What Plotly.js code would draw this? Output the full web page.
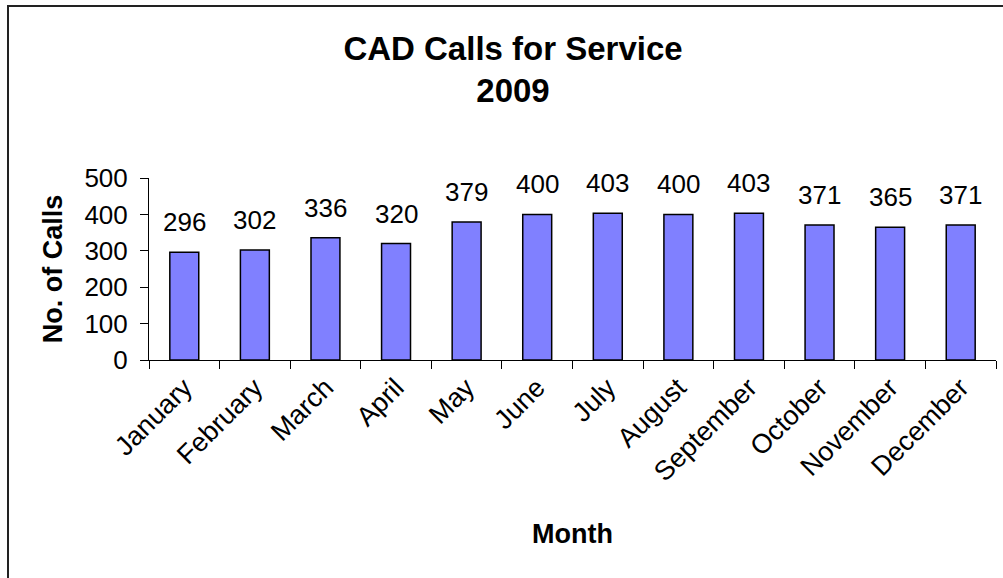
<!DOCTYPE html>
<html>
<head>
<meta charset="utf-8">
<script src="https://cdn.plot.ly/plotly-3.0.1.min.js"></script>
<style>
  html, body { margin: 0; padding: 0; background: #fff; }
  #wrap { position: relative; width: 1003px; height: 578px; overflow: hidden; }
  #chart { position: absolute; left: 0; top: 0; width: 1003px; height: 578px; }
  #frame { position: absolute; left: 7px; top: 5px; width: 1100px; height: 700px;
           border-left: 2px solid #222; border-top: 2px solid #222; pointer-events: none; }
</style>
</head>
<body>
<div id="wrap">
  <div id="chart"></div>
  <div id="frame"></div>
</div>
<script>
const months = ["January", "February", "March", "April", "May", "June",
                "July", "August", "September", "October", "November", "December"];
const calls = [296, 302, 336, 320, 379, 400, 403, 400, 403, 371, 365, 371];
const yTicks = [0, 100, 200, 300, 400, 500];

const FONT = "Arial, 'Liberation Sans', sans-serif";

const trace = {
  type: "bar",
  x: months,
  y: calls,
  marker: { color: "#8080FF", line: { color: "#000000", width: 1.5 } },
  width: 0.41,
  hoverinfo: "x+y"
};

const labels = months.map((m, i) => ({
  x: m, y: calls[i], xref: "x", yref: "y",
  text: String(calls[i]), showarrow: false,
  yanchor: "middle", yshift: 30,
  font: { family: FONT, size: 26, color: "#000" }
}));

const layout = {
  width: 1003, height: 578,
  margin: { l: 149, r: 7, t: 178, b: 218 },
  paper_bgcolor: "#ffffff",
  plot_bgcolor: "#ffffff",
  showlegend: false,
  font: { family: FONT, color: "#000" },
  title: {
    text: "<b>CAD Calls for Service<br>2009</b>",
    font: { family: FONT, size: 33, color: "#000" },
    x: 0.5115, xref: "container", xanchor: "center",
    y: 0.897, yref: "container", yanchor: "middle"
  },
  xaxis: {
    type: "category",
    tickangle: -45,
    tickfont: { family: FONT, size: 27, color: "#000" },
    ticks: "outside", ticklen: 8, tickcolor: "#000", tickwidth: 1,
    tickson: "boundaries",
    showline: true, linecolor: "#000", linewidth: 1,
    showgrid: false, zeroline: false,
    title: { text: "<b>Month</b>", font: { family: FONT, size: 27, color: "#000" }, standoff: 38 },
    fixedrange: true
  },
  yaxis: {
    range: [0, 500],
    tickvals: yTicks,
    ticktext: yTicks.map(String),
    tickfont: { family: FONT, size: 26, color: "#000" },
    ticks: "outside", ticklen: 8, tickcolor: "#000", tickwidth: 1,
    ticklabelstandoff: 7,
    showline: true, linecolor: "#000", linewidth: 1,
    showgrid: false, zeroline: false,
    title: { text: "<b>No. of Calls</b>", font: { family: FONT, size: 27, color: "#000" }, standoff: 13 },
    fixedrange: true
  },
  annotations: labels
};

Plotly.newPlot("chart", [trace], layout, { staticPlot: true, displayModeBar: false });
</script>
</body>
</html>
